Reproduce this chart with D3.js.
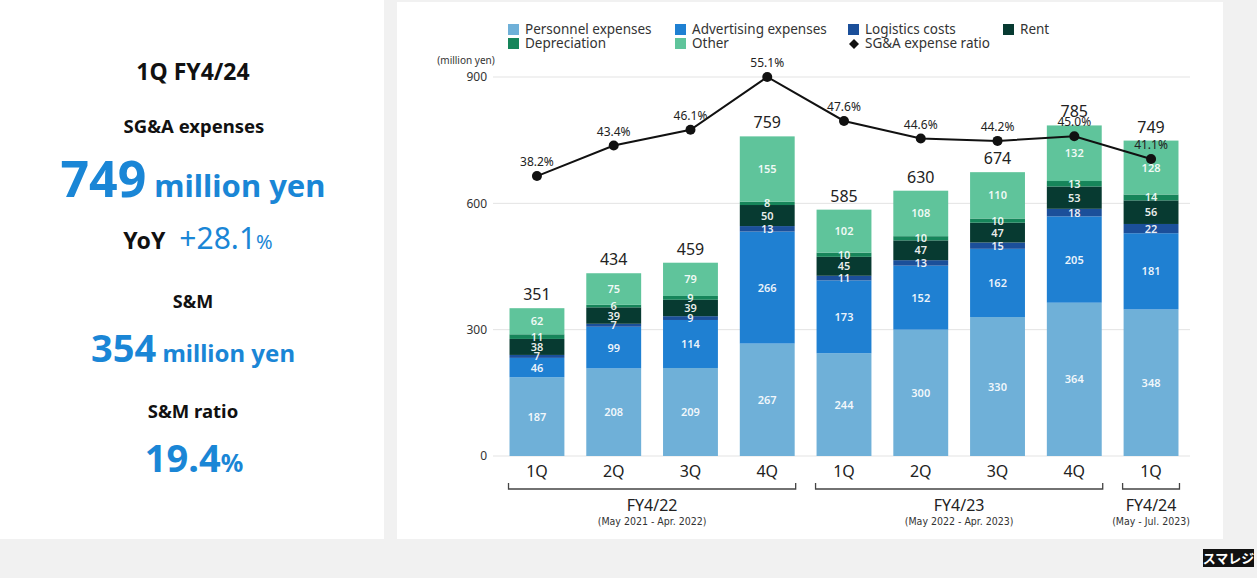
<!DOCTYPE html>
<html><head><meta charset="utf-8">
<script src="https://cdn.jsdelivr.net/npm/d3@7"></script>
<style>
html,body{margin:0;padding:0;background:#f1f1f1;}
svg{display:block;font-family:"Noto Sans","Noto Sans CJK JP",sans-serif;}
</style></head>
<body><svg id="c" width="1257" height="578"></svg>
<script>
const categories = ["1Q","2Q","3Q","4Q","1Q ","2Q ","3Q ","4Q ","1Q  "];
const personnel   = [187,208,209,267,244,300,330,364,348];
const advertising = [46,99,114,266,173,152,162,205,181];
const logistics   = [7,7,9,13,11,13,15,18,22];
const rent        = [38,39,39,50,45,47,47,53,56];
const depreciation= [11,6,9,8,10,10,10,13,14];
const other       = [62,75,79,155,102,108,110,132,128];
const totals      = [351,434,459,759,585,630,674,785,749];
const ratio       = [38.2,43.4,46.1,55.1,47.6,44.6,44.2,45.0,41.1];
const yTicks      = [0,300,600,900];
const seriesNames = ["Personnel expenses","Advertising expenses","Logistics costs","Rent","Depreciation","Other"];
const seriesColors= ["#6fb0d8","#1f80d2","#1b4f9a","#073a31","#16855a","#5fc49b"];
const fiscalYears = [
  {label:"FY4/22", sub:"(May 2021 - Apr. 2022)", from:0, to:3},
  {label:"FY4/23", sub:"(May 2022 - Apr. 2023)", from:4, to:7},
  {label:"FY4/24", sub:"(May - Jul. 2023)", from:8, to:8}
];

const svg = d3.select("#c");
// panels
svg.append("rect").attr("x",0).attr("y",0).attr("width",384).attr("height",539).attr("fill","#fff");
svg.append("rect").attr("x",397).attr("y",2).attr("width",826).attr("height",537).attr("fill","#fff");

// left panel text
const L = svg.append("g").attr("text-anchor","middle");
L.append("text").attr("x",193).attr("y",80).attr("font-size",23).attr("font-weight",700).attr("fill","#111").text("1Q FY4/24");
L.append("text").attr("x",194).attr("y",133).attr("font-size",18.5).attr("font-weight",700).attr("fill","#111").text("SG&A expenses");
const t1 = L.append("text").attr("x",193).attr("y",197).attr("font-weight",700).attr("fill","#1a86d6");
t1.append("tspan").attr("font-size",50).text("749");
t1.append("tspan").attr("font-size",31).text(" million yen");
const t2 = L.append("text").attr("x",198).attr("y",249).attr("font-weight",700);
t2.append("tspan").attr("font-size",23).attr("fill","#111").text("YoY");
t2.append("tspan").attr("font-size",30).attr("fill","#1a86d6").attr("font-weight",400).attr("dx",14).text("+28.1");
t2.append("tspan").attr("font-size",20).attr("fill","#1a86d6").attr("font-weight",400).text("%");
L.append("text").attr("x",193).attr("y",308).attr("font-size",18).attr("font-weight",700).attr("fill","#111").text("S&M");
const t3 = L.append("text").attr("x",193).attr("y",362).attr("font-weight",700).attr("fill","#1a86d6");
t3.append("tspan").attr("font-size",38).text("354");
t3.append("tspan").attr("font-size",24).text(" million yen");
L.append("text").attr("x",193).attr("y",418).attr("font-size",18.5).attr("font-weight",700).attr("fill","#111").text("S&M ratio");
const t4 = L.append("text").attr("x",194).attr("y",472).attr("font-weight",700).attr("fill","#1a86d6");
t4.append("tspan").attr("font-size",38).text("19.4");
t4.append("tspan").attr("font-size",25).text("%");

// chart scales
const x = d3.scaleBand().domain(categories).range([498,1190]).paddingInner(0.285).paddingOuter(0.15);
const y = d3.scaleLinear().domain([0,900]).range([456,77]);
const yR = d3.scaleLinear().domain([-9.56,55.1]).range([456,77]);

// grid
const grid = svg.append("g");
yTicks.forEach(t=>{
  grid.append("line").attr("x1",493).attr("x2",1190).attr("y1",y(t)).attr("y2",y(t))
    .attr("stroke", "#e3e3e3").attr("stroke-width",1);
});
const yAxis = d3.axisLeft(y).tickValues(yTicks).tickSize(0).tickPadding(0);
const ya = svg.append("g").attr("transform","translate(487,0)").call(yAxis);
ya.select(".domain").remove();
ya.selectAll("text").attr("font-size",12).attr("fill","#333").attr("font-family",'"Noto Sans",sans-serif');
svg.append("text").attr("x",466).attr("y",64).attr("text-anchor","middle").attr("font-size",10).attr("fill","#333").text("(million yen)");

// stacks
const rows = categories.map((c,i)=>({cat:c, s0:personnel[i], s1:advertising[i], s2:logistics[i], s3:rent[i], s4:depreciation[i], s5:other[i]}));
const keys = ["s0","s1","s2","s3","s4","s5"];
const stack = d3.stack().keys(keys)(rows);
const gBars = svg.append("g");
stack.forEach((layer,li)=>{
  gBars.selectAll(null).data(layer).enter().append("rect")
    .attr("x",d=>x(d.data.cat)).attr("width",x.bandwidth())
    .attr("y",d=>y(d[1])).attr("height",d=>y(d[0])-y(d[1]))
    .attr("fill",seriesColors[li]);
});
stack.forEach((layer,li)=>{
  gBars.selectAll(null).data(layer).enter().append("text")
    .attr("x",d=>x(d.data.cat)+x.bandwidth()/2)
    .attr("y",d=>(y(d[0])+y(d[1]))/2+4)
    .attr("text-anchor","middle").attr("font-size",11).attr("font-weight",600)
    .attr("fill","#fff").attr("fill-opacity",0.92)
    .text(d=>d.data[keys[li]]);
});
// totals
svg.append("g").selectAll("text").data(totals).enter().append("text")
  .attr("x",(d,i)=>x(categories[i])+x.bandwidth()/2)
  .attr("y",d=>y(d)-8).attr("text-anchor","middle").attr("font-size",16).attr("fill","#222").text(d=>d);

// line
const line = d3.line().x((d,i)=>x(categories[i])+x.bandwidth()/2).y(d=>yR(d));
svg.append("path").datum(ratio).attr("d",line).attr("fill","none").attr("stroke","#111").attr("stroke-width",2);
svg.append("g").selectAll("circle").data(ratio).enter().append("circle")
  .attr("cx",(d,i)=>x(categories[i])+x.bandwidth()/2).attr("cy",d=>yR(d)).attr("r",5).attr("fill","#111");
svg.append("g").selectAll("text").data(ratio).enter().append("text")
  .attr("x",(d,i)=>x(categories[i])+x.bandwidth()/2).attr("y",d=>yR(d)-10)
  .attr("text-anchor","middle").attr("font-size",12).attr("fill","#222").text(d=>d.toFixed(1)+"%");

// x labels
svg.append("g").selectAll("text").data(categories).enter().append("text")
  .attr("x",d=>x(d)+x.bandwidth()/2).attr("y",477).attr("text-anchor","middle")
  .attr("font-size",16).attr("fill","#222").text(d=>d.trim());

// brackets
const gb = svg.append("g");
fiscalYears.forEach(f=>{
  const x0 = x(categories[f.from])-1, x1 = x(categories[f.to])+x.bandwidth()+1, yb=489;
  gb.append("path").attr("d",`M${x0},${yb-6}V${yb}H${x1}V${yb-6}`).attr("fill","none").attr("stroke","#444").attr("stroke-width",1.3);
  const cx=(x0+x1)/2;
  gb.append("text").attr("x",cx).attr("y",511).attr("text-anchor","middle").attr("font-size",16).attr("fill","#222").text(f.label);
  gb.append("text").attr("x",cx).attr("y",525).attr("text-anchor","middle").attr("font-size",10.5).attr("fill","#333")
    .attr("font-family",'"Liberation Sans Narrow","DejaVu Sans Condensed",sans-serif').text(f.sub);
});

// legend
const legPos = [[508,30],[675,30],[848,30],[1003,30],[508,44],[675,44]];
const lg = svg.append("g");
seriesNames.forEach((n,i)=>{
  lg.append("rect").attr("x",legPos[i][0]).attr("y",legPos[i][1]-6).attr("width",11).attr("height",11).attr("fill",seriesColors[i]);
  lg.append("text").attr("x",legPos[i][0]+17).attr("y",legPos[i][1]+4).attr("font-size",13.5).attr("fill","#333").text(n);
});
lg.append("path").attr("d","M854,39 l5,5 l-5,5 l-5,-5z").attr("fill","#111");
lg.append("text").attr("x",865).attr("y",48).attr("font-size",13.5).attr("fill","#333").text("SG&A expense ratio");

// logo
svg.append("rect").attr("x",1203).attr("y",549).attr("width",51).attr("height",18).attr("fill","#111");
svg.append("text").attr("x",1228.5).attr("y",563).attr("text-anchor","middle").attr("font-size",13).attr("font-weight",700)
  .attr("fill","#fff").attr("font-family",'"Noto Sans CJK JP",sans-serif').text("スマレジ");
</script></body></html>
